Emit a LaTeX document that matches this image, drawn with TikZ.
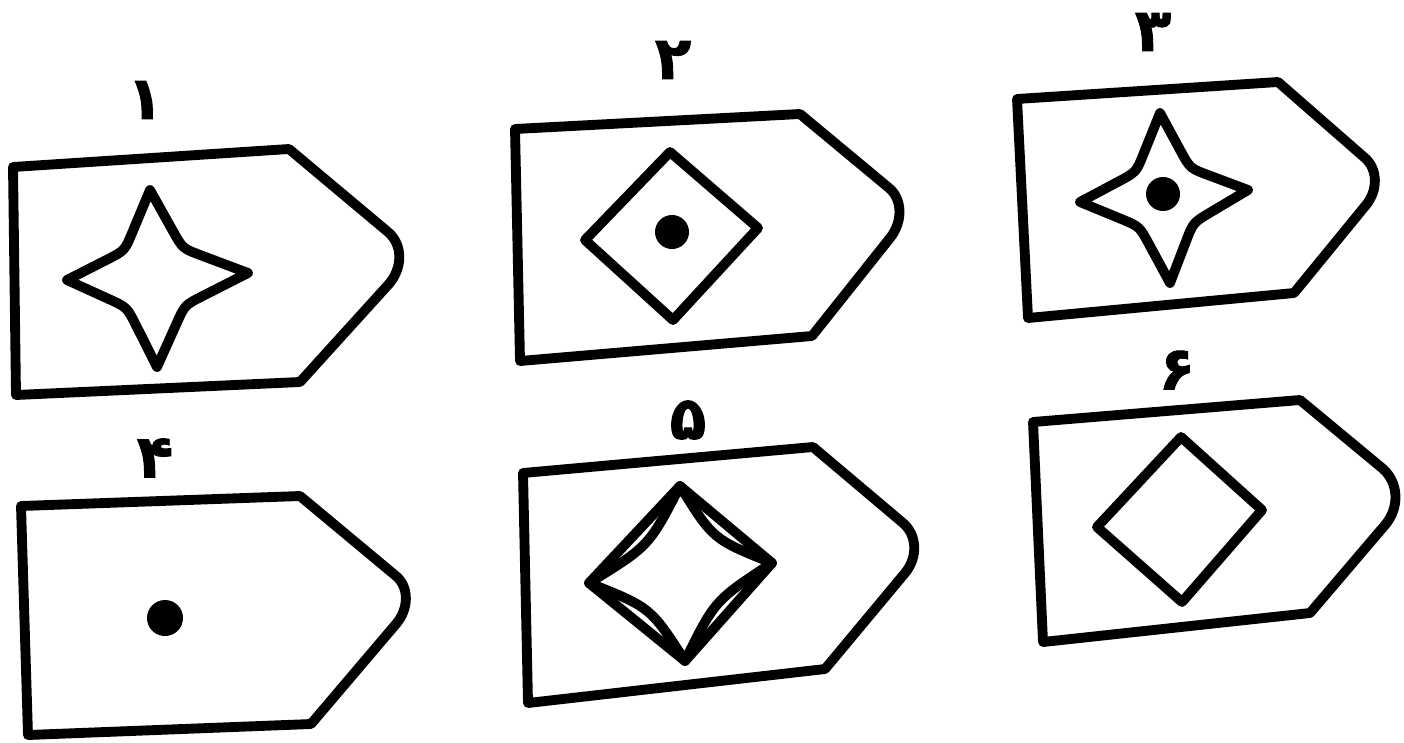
\documentclass[tikz,border=0pt]{standalone}
\usepackage{fontspec}
\usetikzlibrary{calc}
\TeXXeTstate=1
\newfontfamily\arabicfont[Script=Arabic, FakeBold=1.5]{DejaVu Sans}
\tikzset{
  figline/.style={draw=black, line width=2.8pt, line join=round},
  num/.style={font=\arabicfont\bfseries\fontsize{17}{20}\selectfont, inner sep=0pt},
}
% tag outline: top-left, top-right, tip start, tip end, bottom-right, bottom-left
\newcommand{\tagshape}[6]{%
  \coordinate (p) at #2; \coordinate (q) at #3;
  \coordinate (r) at #4; \coordinate (s) at #5;
  \coordinate (tip) at (intersection of p--q and s--r);
  \draw[figline] #1 -- (p) -- (q)
    .. controls ($(q)!.55!(tip)$) and ($(r)!.55!(tip)$) .. (r) -- (s) -- #6 -- cycle;}
% four-pointed star, straight arms: top, right, bottom, left
\newcommand{\fourstar}[4]{%
  \coordinate (o) at ($#1!.5!#3$);
  \coordinate (w1) at ($#1!.5!#2!.36!(o)$);
  \coordinate (w2) at ($#2!.5!#3!.36!(o)$);
  \coordinate (w3) at ($#3!.5!#4!.36!(o)$);
  \coordinate (w4) at ($#4!.5!#1!.36!(o)$);
  \draw[figline] #1 -- ($(w1)!.2cm!#1$) .. controls (w1) .. ($(w1)!.2cm!#2$)
    -- #2 -- ($(w2)!.2cm!#2$) .. controls (w2) .. ($(w2)!.2cm!#3$)
    -- #3 -- ($(w3)!.2cm!#3$) .. controls (w3) .. ($(w3)!.2cm!#4$)
    -- #4 -- ($(w4)!.2cm!#4$) .. controls (w4) .. ($(w4)!.2cm!#1$) -- cycle;}
% four-pointed star, curved arms: top, right, bottom, left
\newcommand{\curvestar}[4]{%
  \coordinate (o) at ($#1!.5!#3$);
  \draw[figline] #1 .. controls ($#1!.5!#2!.3!(o)$) .. #2
    .. controls ($#2!.5!#3!.3!(o)$) .. #3
    .. controls ($#3!.5!#4!.3!(o)$) .. #4
    .. controls ($#4!.5!#1!.3!(o)$) .. cycle;}

\begin{document}
\begin{tikzpicture}[x=0.01cm, y=-0.01cm]
  \useasboundingbox (0,0) rectangle (1404,742);
  % outlines
  \tagshape{(13,167)}{(289,149)}{(388,232)}{(388,285)}{(300,382)}{(16,395)}
  \tagshape{(515,129)}{(800,114)}{(889,188)}{(890,238)}{(812,336)}{(520,361)}
  \tagshape{(1017,99)}{(1278,82)}{(1365,158)}{(1366,205)}{(1294,293)}{(1028,318)}
  \tagshape{(21,506)}{(300,496)}{(396,576)}{(396,624)}{(311,724)}{(28,735)}
  \tagshape{(523,473)}{(813,447)}{(903,523)}{(905,573)}{(825,669)}{(528,703)}
  \tagshape{(1033,422)}{(1300,400)}{(1382,468)}{(1385,525)}{(1310,613)}{(1043,642)}
  % inner figures
  \fourstar{(150,190)}{(248,273)}{(157,367)}{(67,280)}
  \draw[figline] (670,152) -- (758,228) -- (673,320) -- (585,240) -- cycle;
  \fill (672,232) circle[radius=1.7mm];
  \fourstar{(1160,113)}{(1248,190)}{(1170,283)}{(1080,202)}
  \fill (1163,194) circle[radius=1.7mm];
  \fill (165,618) circle[radius=1.8mm];
  \draw[figline] (680,486) -- (772,563) -- (685,661) -- (589,583) -- cycle;
  \curvestar{(680,486)}{(772,563)}{(685,661)}{(589,583)}
  \draw[figline] (1181,437) -- (1262,510) -- (1182,602) -- (1097,527) -- cycle;
  % numbers
  \foreach \i/\x/\y/\d in {1/145/100/۱, 2/673/60/۲, 3/1153/32/۳,
                           4/155/458/۴, 5/688/420/۵, 6/1177/370/۶}
    \node[num] (n\i) at (\x,\y) {\beginR\d\endR};
\end{tikzpicture}
\end{document}
